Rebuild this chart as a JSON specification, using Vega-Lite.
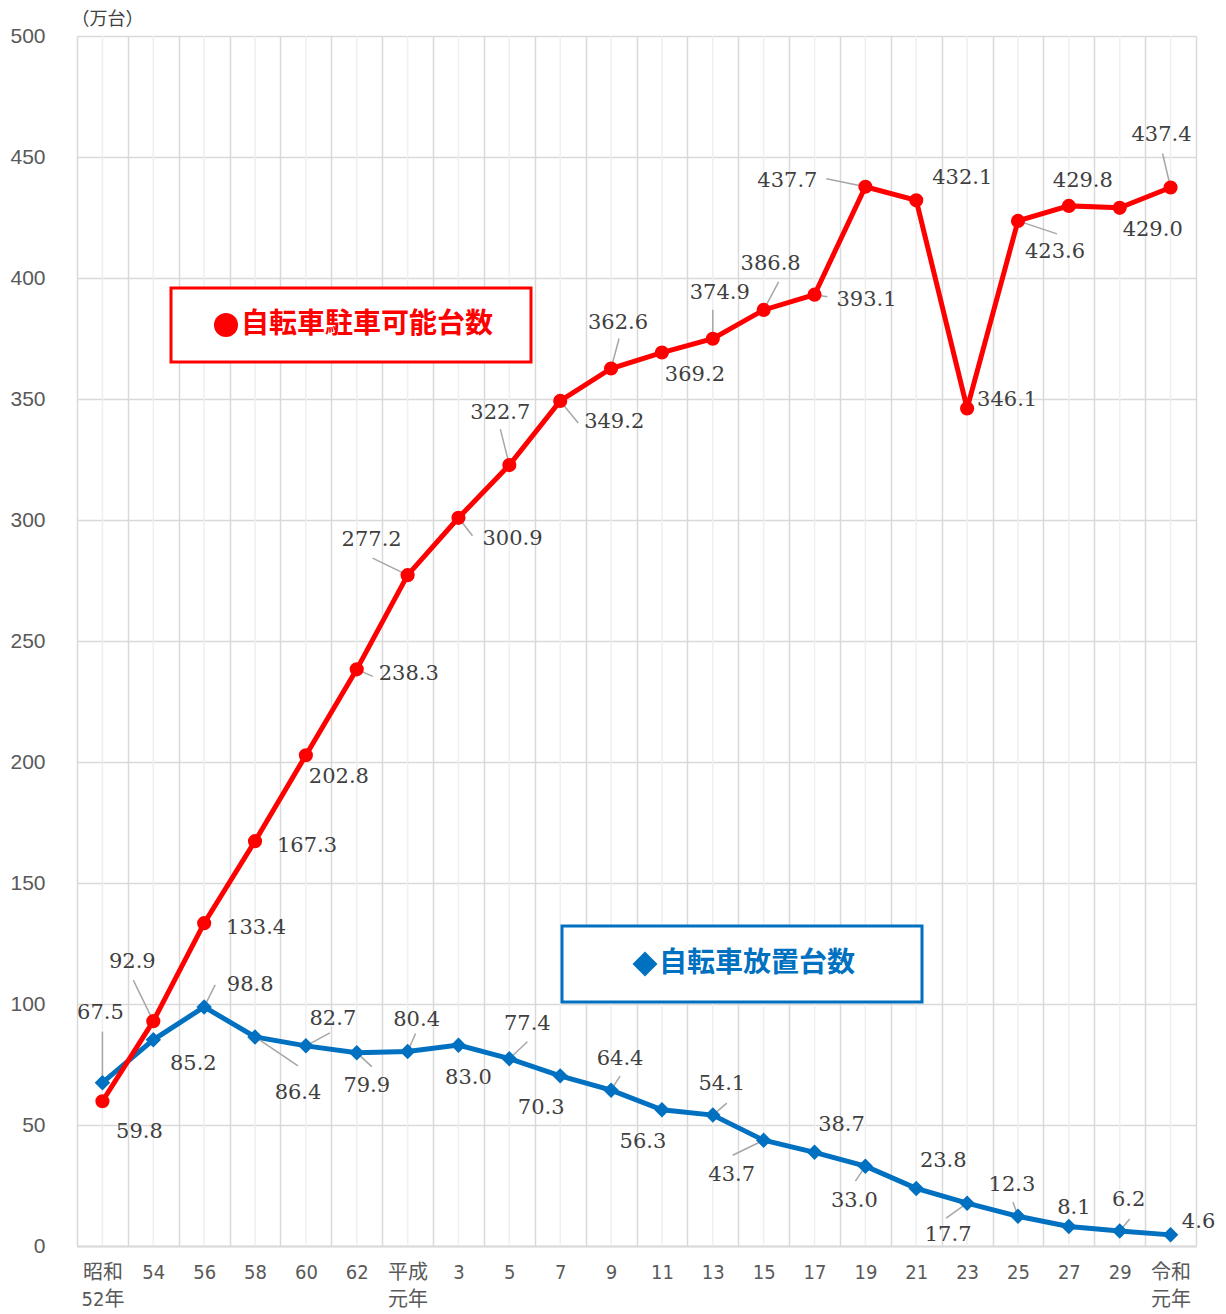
{
  "$schema": "https://vega.github.io/schema/vega-lite/v6.json",
  "usermeta": {"embedOptions": {"actions": false}},
  "width": 1119,
  "height": 1210,
  "autosize": "none",
  "padding": {"left": 77, "top": 36, "right": 30, "bottom": 68},
  "background": "white",
  "config": {
    "view": {"stroke": null},
    "text": {"font": "DejaVu Serif", "fontSize": 21, "fill": "#404040", "align": "center", "baseline": "middle"},
    "rule": {"color": "#a6a6a6", "strokeWidth": 1.5},
    "legend": {"strokeWidth": 3, "labelLimit": 0}
  },
  "data": {
    "values": [
      {"year": "昭和52年", "series": "parking", "value": 59.8},
      {"year": "54", "series": "parking", "value": 92.9},
      {"year": "56", "series": "parking", "value": 133.4},
      {"year": "58", "series": "parking", "value": 167.3},
      {"year": "60", "series": "parking", "value": 202.8},
      {"year": "62", "series": "parking", "value": 238.3},
      {"year": "平成元年", "series": "parking", "value": 277.2},
      {"year": "3", "series": "parking", "value": 300.9},
      {"year": "5", "series": "parking", "value": 322.7},
      {"year": "7", "series": "parking", "value": 349.2},
      {"year": "9", "series": "parking", "value": 362.6},
      {"year": "11", "series": "parking", "value": 369.2},
      {"year": "13", "series": "parking", "value": 374.9},
      {"year": "15", "series": "parking", "value": 386.8},
      {"year": "17", "series": "parking", "value": 393.1},
      {"year": "19", "series": "parking", "value": 437.7},
      {"year": "21", "series": "parking", "value": 432.1},
      {"year": "23", "series": "parking", "value": 346.1},
      {"year": "25", "series": "parking", "value": 423.6},
      {"year": "27", "series": "parking", "value": 429.8},
      {"year": "29", "series": "parking", "value": 429.0},
      {"year": "令和元年", "series": "parking", "value": 437.4},
      {"year": "昭和52年", "series": "abandoned", "value": 67.5},
      {"year": "54", "series": "abandoned", "value": 85.2},
      {"year": "56", "series": "abandoned", "value": 98.8},
      {"year": "58", "series": "abandoned", "value": 86.4},
      {"year": "60", "series": "abandoned", "value": 82.7},
      {"year": "62", "series": "abandoned", "value": 79.9},
      {"year": "平成元年", "series": "abandoned", "value": 80.4},
      {"year": "3", "series": "abandoned", "value": 83.0},
      {"year": "5", "series": "abandoned", "value": 77.4},
      {"year": "7", "series": "abandoned", "value": 70.3},
      {"year": "9", "series": "abandoned", "value": 64.4},
      {"year": "11", "series": "abandoned", "value": 56.3},
      {"year": "13", "series": "abandoned", "value": 54.1},
      {"year": "15", "series": "abandoned", "value": 43.7},
      {"year": "17", "series": "abandoned", "value": 38.7},
      {"year": "19", "series": "abandoned", "value": 33.0},
      {"year": "21", "series": "abandoned", "value": 23.8},
      {"year": "23", "series": "abandoned", "value": 17.7},
      {"year": "25", "series": "abandoned", "value": 12.3},
      {"year": "27", "series": "abandoned", "value": 8.1},
      {"year": "29", "series": "abandoned", "value": 6.2},
      {"year": "令和元年", "series": "abandoned", "value": 4.6}
    ]
  },
  "encoding": {
    "x": {
      "field": "year",
      "type": "nominal",
      "sort": ["昭和52年", "54", "56", "58", "60", "62", "平成元年", "3", "5", "7", "9", "11", "13", "15", "17", "19", "21", "23", "25", "27", "29", "令和元年"],
      "scale": {"paddingInner": 0, "paddingOuter": 0},
      "axis": {
        "title": null,
        "tickBand": "extent",
        "grid": true,
        "gridColor": "#d9d9d9",
        "gridWidth": 1.5,
        "domain": true,
        "domainColor": "#d9d9d9",
        "domainWidth": 2,
        "ticks": false,
        "labelAngle": 0,
        "labelPadding": 16,
        "labelFont": "Liberation Sans Narrow, DejaVu Sans Condensed, Noto Sans CJK JP, sans-serif",
        "labelFontSize": 20,
        "labelColor": "#595959",
        "labelLineHeight": 27,
        "labelExpr": "datum.value == '昭和52年' ? ['昭和','52年'] : datum.value == '平成元年' ? ['平成','元年'] : datum.value == '令和元年' ? ['令和','元年'] : datum.label"
      }
    }
  },
  "layer": [
    {
      "transform": [{"filter": "datum.series == 'parking'"}],
      "mark": {"type": "rule", "color": "#efefef", "strokeWidth": 1.5},
      "encoding": {}
    },
    {
      "transform": [{"filter": "datum.series == 'abandoned'"}],
      "encoding": {
        "y": {
          "field": "value", "type": "quantitative",
          "scale": {"domain": [0, 500], "nice": false, "zero": true},
          "axis": {
            "values": [0, 50, 100, 150, 200, 250, 300, 350, 400, 450, 500],
            "grid": true, "gridColor": "#d9d9d9", "gridWidth": 1.5,
            "domain": false, "ticks": false,
            "labelPadding": 32,
            "labelFont": "Liberation Sans, Noto Sans CJK JP, sans-serif",
            "labelFontSize": 21, "labelColor": "#595959",
            "title": "（万台）", "titleAngle": 0, "titleAlign": "left", "titleBaseline": "middle",
            "titleX": -6, "titleY": -17, "titleFont": "Noto Sans CJK JP", "titleFontSize": 18,
            "titleFontWeight": "normal", "titleColor": "#404040"
          }
        }
      },
      "layer": [
        {"mark": {"type": "line", "color": "#0070c0", "strokeWidth": 5}},
        {
          "encoding": {"x2": {"field": "year"}, "y2": {"field": "value"}},
          "layer": [
            {"transform": [{"filter": {"field": "year", "equal": "昭和52年"}}], "mark": {"type": "rule", "x2Offset": 0, "y2Offset": -51}},
            {"transform": [{"filter": {"field": "year", "equal": "56"}}], "mark": {"type": "rule", "x2Offset": 11, "y2Offset": -22}},
            {"transform": [{"filter": {"field": "year", "equal": "58"}}], "mark": {"type": "rule", "x2Offset": 43, "y2Offset": 29}},
            {"transform": [{"filter": {"field": "year", "equal": "60"}}], "mark": {"type": "rule", "x2Offset": 24, "y2Offset": -13}},
            {"transform": [{"filter": {"field": "year", "equal": "62"}}], "mark": {"type": "rule", "x2Offset": 15, "y2Offset": 14}},
            {"transform": [{"filter": {"field": "year", "equal": "平成元年"}}], "mark": {"type": "rule", "x2Offset": 8, "y2Offset": -18}},
            {"transform": [{"filter": {"field": "year", "equal": "5"}}], "mark": {"type": "rule", "x2Offset": 18, "y2Offset": -17}},
            {"transform": [{"filter": {"field": "year", "equal": "9"}}], "mark": {"type": "rule", "x2Offset": 9, "y2Offset": -14}},
            {"transform": [{"filter": {"field": "year", "equal": "13"}}], "mark": {"type": "rule", "x2Offset": 14, "y2Offset": -12}},
            {"transform": [{"filter": {"field": "year", "equal": "15"}}], "mark": {"type": "rule", "x2Offset": -31, "y2Offset": 15}},
            {"transform": [{"filter": {"field": "year", "equal": "19"}}], "mark": {"type": "rule", "x2Offset": -10, "y2Offset": 15}},
            {"transform": [{"filter": {"field": "year", "equal": "23"}}], "mark": {"type": "rule", "x2Offset": -21, "y2Offset": 15}},
            {"transform": [{"filter": {"field": "year", "equal": "25"}}], "mark": {"type": "rule", "x2Offset": -5, "y2Offset": -14}},
            {"transform": [{"filter": {"field": "year", "equal": "29"}}], "mark": {"type": "rule", "x2Offset": 10, "y2Offset": -12}}
          ]
        },
        {
          "mark": {"type": "point", "shape": "diamond", "filled": true, "size": 240, "opacity": 1},
          "encoding": {
            "color": {
              "datum": "自転車放置台数",
              "type": "nominal",
              "scale": {"range": ["#0070c0"]},
              "legend": {
                "title": null, "orient": "none", "legendX": 485, "legendY": 890,
                "symbolType": "diamond", "symbolSize": 625, "symbolStrokeWidth": 0,
                "symbolOffset": 45, "labelOffset": 0,
                "labelFont": "Noto Sans CJK JP", "labelFontSize": 28, "labelFontWeight": "bold",
                "labelColor": "#0070c0", "labelLimit": 0,
                "labelExpr": "datum.label + '\u3000\u2002\u200b'",
                "padding": 24, "strokeColor": "#0070c0", "fillColor": "white",
                "encode": {"legend": {"update": {"strokeWidth": {"value": 3}, "stroke": {"value": "#0070c0"}}}}
              }
            }
          }
        },
        {
          "encoding": {"text": {"field": "value", "type": "quantitative", "format": ".1f"}},
          "layer": [
            {"transform": [{"filter": {"field": "year", "oneOf": ["62", "3"]}}], "mark": {"type": "text", "dx": 10, "dy": 33}},
            {"transform": [{"filter": {"field": "year", "oneOf": ["平成元年", "9", "29", "13"]}}], "mark": {"type": "text", "dx": 9, "dy": -31}},
            {"transform": [{"filter": {"field": "year", "oneOf": ["7", "11", "23"]}}], "mark": {"type": "text", "dx": -19, "dy": 32}},
            {"transform": [{"filter": {"field": "year", "oneOf": ["60", "17", "21"]}}], "mark": {"type": "text", "dx": 27, "dy": -27}},
            {"transform": [{"filter": {"field": "year", "equal": "昭和52年"}}], "mark": {"type": "text", "dx": -2, "dy": -70}},
            {"transform": [{"filter": {"field": "year", "equal": "54"}}], "mark": {"type": "text", "dx": 40, "dy": 24}},
            {"transform": [{"filter": {"field": "year", "equal": "56"}}], "mark": {"type": "text", "dx": 46, "dy": -22}},
            {"transform": [{"filter": {"field": "year", "equal": "58"}}], "mark": {"type": "text", "dx": 43, "dy": 56}},
            {"transform": [{"filter": {"field": "year", "equal": "5"}}], "mark": {"type": "text", "dx": 18, "dy": -35}},
            {"transform": [{"filter": {"field": "year", "equal": "15"}}], "mark": {"type": "text", "dx": -32, "dy": 35}},
            {"transform": [{"filter": {"field": "year", "equal": "19"}}], "mark": {"type": "text", "dx": -11, "dy": 35}},
            {"transform": [{"filter": {"field": "year", "equal": "25"}}], "mark": {"type": "text", "dx": -6, "dy": -31}},
            {"transform": [{"filter": {"field": "year", "equal": "27"}}], "mark": {"type": "text", "dx": 5, "dy": -18}},
            {"transform": [{"filter": {"field": "year", "equal": "令和元年"}}], "mark": {"type": "text", "dx": 28, "dy": -13}}
          ]
        }
      ]
    },
    {
      "transform": [{"filter": "datum.series == 'parking'"}],
      "encoding": {
        "y": {
          "field": "value", "type": "quantitative",
          "scale": {"domain": [0, 500], "nice": false, "zero": true},
          "axis": {
            "values": [0, 50, 100, 150, 200, 250, 300, 350, 400, 450, 500],
            "grid": true, "gridColor": "#d9d9d9", "gridWidth": 1.5,
            "domain": false, "ticks": false,
            "labelPadding": 32,
            "labelFont": "Liberation Sans, Noto Sans CJK JP, sans-serif",
            "labelFontSize": 21, "labelColor": "#595959",
            "title": "（万台）", "titleAngle": 0, "titleAlign": "left", "titleBaseline": "middle",
            "titleX": -6, "titleY": -17, "titleFont": "Noto Sans CJK JP", "titleFontSize": 18,
            "titleFontWeight": "normal", "titleColor": "#404040"
          }
        }
      },
      "layer": [
        {"mark": {"type": "line", "color": "#ff0000", "strokeWidth": 5}},
        {
          "encoding": {"x2": {"field": "year"}, "y2": {"field": "value"}},
          "layer": [
            {"transform": [{"filter": {"field": "year", "equal": "54"}}], "mark": {"type": "rule", "x2Offset": -20, "y2Offset": -41}},
            {"transform": [{"filter": {"field": "year", "equal": "62"}}], "mark": {"type": "rule", "x2Offset": 16, "y2Offset": 7}},
            {"transform": [{"filter": {"field": "year", "equal": "平成元年"}}], "mark": {"type": "rule", "x2Offset": -35, "y2Offset": -17}},
            {"transform": [{"filter": {"field": "year", "equal": "3"}}], "mark": {"type": "rule", "x2Offset": 14, "y2Offset": 18}},
            {"transform": [{"filter": {"field": "year", "equal": "5"}}], "mark": {"type": "rule", "x2Offset": -9, "y2Offset": -36}},
            {"transform": [{"filter": {"field": "year", "equal": "7"}}], "mark": {"type": "rule", "x2Offset": 18, "y2Offset": 22}},
            {"transform": [{"filter": {"field": "year", "equal": "9"}}], "mark": {"type": "rule", "x2Offset": 8, "y2Offset": -30}},
            {"transform": [{"filter": {"field": "year", "equal": "13"}}], "mark": {"type": "rule", "x2Offset": 0, "y2Offset": -29}},
            {"transform": [{"filter": {"field": "year", "equal": "15"}}], "mark": {"type": "rule", "x2Offset": 15, "y2Offset": -28}},
            {"transform": [{"filter": {"field": "year", "equal": "17"}}], "mark": {"type": "rule", "x2Offset": 13, "y2Offset": 2}},
            {"transform": [{"filter": {"field": "year", "equal": "19"}}], "mark": {"type": "rule", "x2Offset": -39, "y2Offset": -8}},
            {"transform": [{"filter": {"field": "year", "equal": "25"}}], "mark": {"type": "rule", "x2Offset": 39, "y2Offset": 13}},
            {"transform": [{"filter": {"field": "year", "equal": "令和元年"}}], "mark": {"type": "rule", "x2Offset": -8, "y2Offset": -34}}
          ]
        },
        {
          "mark": {"type": "point", "shape": "circle", "filled": true, "size": 200, "opacity": 1},
          "encoding": {
            "color": {
              "datum": "自転車駐車可能台数",
              "type": "nominal",
              "scale": {"range": ["#ff0000"]},
              "legend": {
                "title": null, "orient": "none", "legendX": 94, "legendY": 252,
                "symbolType": "circle", "symbolSize": 576, "symbolStrokeWidth": 0,
                "symbolOffset": 18, "labelOffset": 1,
                "labelFont": "Noto Sans CJK JP", "labelFontSize": 28, "labelFontWeight": "bold",
                "labelColor": "#ff0000", "labelLimit": 0,
                "labelExpr": "datum.label + '\u2002\u200b'",
                "padding": 23, "strokeColor": "#ff0000", "fillColor": "white",
                "encode": {"legend": {"update": {"strokeWidth": {"value": 3}, "stroke": {"value": "#ff0000"}}}}
              }
            }
          }
        },
        {
          "encoding": {"text": {"field": "value", "type": "quantitative", "format": ".1f"}},
          "layer": [
            {"transform": [{"filter": {"field": "year", "oneOf": ["56", "58", "17", "62"]}}], "mark": {"type": "text", "dx": 52, "dy": 5}},
            {"transform": [{"filter": {"field": "year", "oneOf": ["3", "7"]}}], "mark": {"type": "text", "dx": 54, "dy": 21}},
            {"transform": [{"filter": {"field": "year", "oneOf": ["60", "11", "29"]}}], "mark": {"type": "text", "dx": 33, "dy": 22}},
            {"transform": [{"filter": {"field": "year", "oneOf": ["昭和52年", "25"]}}], "mark": {"type": "text", "dx": 37, "dy": 31}},
            {"transform": [{"filter": {"field": "year", "oneOf": ["5", "令和元年"]}}], "mark": {"type": "text", "dx": -9, "dy": -52}},
            {"transform": [{"filter": {"field": "year", "oneOf": ["9", "13", "15"]}}], "mark": {"type": "text", "dx": 7, "dy": -46}},
            {"transform": [{"filter": {"field": "year", "equal": "54"}}], "mark": {"type": "text", "dx": -21, "dy": -59}},
            {"transform": [{"filter": {"field": "year", "equal": "平成元年"}}], "mark": {"type": "text", "dx": -36, "dy": -35}},
            {"transform": [{"filter": {"field": "year", "equal": "19"}}], "mark": {"type": "text", "dx": -78, "dy": -6}},
            {"transform": [{"filter": {"field": "year", "equal": "21"}}], "mark": {"type": "text", "dx": 46, "dy": -22}},
            {"transform": [{"filter": {"field": "year", "equal": "23"}}], "mark": {"type": "text", "dx": 40, "dy": -8}},
            {"transform": [{"filter": {"field": "year", "equal": "27"}}], "mark": {"type": "text", "dx": 14, "dy": -25}}
          ]
        }
      ]
    }
  ],
  "resolve": {"scale": {"color": "independent"}}
}
